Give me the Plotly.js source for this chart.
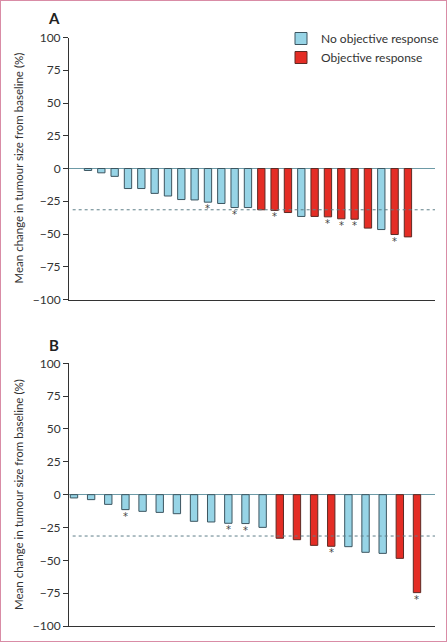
<!DOCTYPE html>
<html>
<head>
<meta charset="utf-8">
<script src="https://cdn.plot.ly/plotly-3.0.1.min.js"></script>
<style>
html,body{margin:0;padding:0;background:#fff;}
#wrap{position:relative;width:447px;height:642px;box-sizing:border-box;border:1px solid #d98ca6;overflow:hidden;}
#chart{position:absolute;left:-1px;top:-1px;width:447px;height:642px;}
</style>
</head>
<body>
<div id="wrap"><div id="chart"></div></div>
<script>
// Panel A: mean change in tumour size (%) per patient, sorted
const valuesA = [-1.5, -3.3, -6, -15.3, -15.3, -19, -21, -23.7, -24, -25.7, -26.7, -29.8, -29.8,
                 -31.5, -32, -33.6, -36.6, -36.6, -36.9, -38.4, -38.7, -45.5, -46.6, -50.4, -52.2];
// 1 = objective response, 0 = no objective response
const responseA = [0,0,0,0,0,0,0,0,0,0,0,0,0, 1,1,1,0,1,1,1,1,1,0,1,1];
// 1 = asterisk marker
const starA =     [0,0,0,0,0,0,0,0,0,1,0,1,0, 0,1,0,0,0,1,1,1,0,0,1,0];

// Panel B
const valuesB = [-2.5, -3.8, -7.4, -11.4, -12.7, -13.5, -14.5, -20.3, -20.8, -21.8, -22, -24.9,
                 -33.2, -34.3, -38.6, -39.3, -39.6, -43.9, -44.7, -48.5, -74.6];
const responseB = [0,0,0,0,0,0,0,0,0,0,0,0, 1,1,1,1,0,0,0,1,1];
const starB =     [0,0,0,1,0,0,0,0,0,1,1,0, 0,0,0,1,0,0,0,0,1];

const thresholdA = -31.5;
const thresholdB = -31.5;
const yTicks = [100, 75, 50, 25, 0, -25, -50, -75, -100];
const legendNames = ['No objective response', 'Objective response'];
const panelLabels = ['A', 'B'];
const yTitle = 'Mean change in tumour size from baseline (%)';

const BLUE = '#97d4e6', RED = '#e42d25';
const BLUE_LINE = '#3c5560', RED_LINE = '#5e2a24';
const FONT = 'Lato, "Open Sans", sans-serif';

function panelTraces(vals, resp, xa, ya, width, showLegend) {
  const idx = vals.map((v, i) => i);
  const out = [];
  [0, 1].forEach(r => {
    const sel = idx.filter(i => resp[i] === r);
    out.push({
      type: 'bar',
      name: legendNames[r],
      x: sel,
      y: sel.map(i => vals[i]),
      width: width,
      xaxis: xa, yaxis: ya,
      marker: {color: r ? RED : BLUE, line: {color: r ? RED_LINE : BLUE_LINE, width: 1}},
      showlegend: showLegend,
      legendgroup: 'g' + r,
      hoverinfo: 'skip'
    });
  });
  return out;
}

const traces = [
  ...panelTraces(valuesA, responseA, 'x', 'y', 0.55, true),
  ...panelTraces(valuesB, responseB, 'x2', 'y2', 0.43, false)
];

function starAnns(vals, stars, xa, ya) {
  const a = [];
  vals.forEach((v, i) => {
    if (stars[i]) a.push({
      x: i, y: v, xref: xa, yref: ya, text: '*', showarrow: false,
      yanchor: 'top', yshift: 1,
      font: {family: '"DejaVu Sans", sans-serif', size: 10, color: '#444'}
    });
  });
  return a;
}

const yaxisBase = {
  range: [-100, 100], tickvals: yTicks, ticks: 'outside', ticklen: 5, tickwidth: 1,
  tickcolor: '#333', showline: true, linecolor: '#333', linewidth: 1,
  showgrid: false, zeroline: true, zerolinecolor: '#6d9aa6', zerolinewidth: 1,
  tickfont: {family: FONT, size: 12, color: '#333'}, fixedrange: true
};
const xaxisBase = {
  showticklabels: false, ticks: '', showgrid: false, zeroline: false,
  showline: true, linecolor: '#333', linewidth: 1.3, fixedrange: true
};

const H = 642;
const layout = {
  width: 447, height: 642,
  margin: {l: 69, r: 12, t: 0, b: 0},
  paper_bgcolor: '#fff', plot_bgcolor: '#fff',
  barmode: 'overlay',
  showlegend: true,
  legend: {
    x: 1 + 9 / 366, xanchor: 'right', y: 1 - 24 / H, yanchor: 'top',
    font: {family: FONT, size: 12, color: '#333'},
    bgcolor: 'rgba(0,0,0,0)', tracegroupgap: 0, itemwidth: 30
  },
  xaxis: Object.assign({}, xaxisBase, {domain: [0, 1], anchor: 'y', range: [-1.425, 26.03]}),
  yaxis: Object.assign({}, yaxisBase, {domain: [1 - 299.5 / H, 1 - 37.5 / H], anchor: 'x'}),
  xaxis2: Object.assign({}, xaxisBase, {domain: [0, 1], anchor: 'y2', range: [-0.29, 21.05]}),
  yaxis2: Object.assign({}, yaxisBase, {domain: [1 - 626 / H, 1 - 363.3 / H], anchor: 'x2'}),
  shapes: [
    {type: 'line', xref: 'x domain', yref: 'y', x0: 0.01, x1: 1, y0: thresholdA, y1: thresholdA,
     line: {color: '#5f7f89', width: 1, dash: '3px,3px'}},
    {type: 'line', xref: 'x2 domain', yref: 'y2', x0: 0.01, x1: 1, y0: thresholdB, y1: thresholdB,
     line: {color: '#5f7f89', width: 1, dash: '3px,3px'}}
  ],
  annotations: [
    ...starAnns(valuesA, starA, 'x', 'y'),
    ...starAnns(valuesB, starB, 'x2', 'y2'),
    {text: '<b>' + panelLabels[0] + '</b>', xref: 'paper', yref: 'paper', x: (54 - 69) / 366, y: 1 - 18 / H,
     xanchor: 'center', yanchor: 'middle', showarrow: false, font: {family: FONT, size: 15, color: '#222'}},
    {text: '<b>' + panelLabels[1] + '</b>', xref: 'paper', yref: 'paper', x: (54 - 69) / 366, y: 1 - 345 / H,
     xanchor: 'center', yanchor: 'middle', showarrow: false, font: {family: FONT, size: 15, color: '#222'}},
    {text: yTitle, xref: 'paper', yref: 'paper', x: (18 - 69) / 366, y: 1 - 168.5 / H, textangle: -90,
     xanchor: 'center', yanchor: 'middle', showarrow: false, font: {family: FONT, size: 11.5, color: '#333'}},
    {text: yTitle, xref: 'paper', yref: 'paper', x: (18 - 69) / 366, y: 1 - 495 / H, textangle: -90,
     xanchor: 'center', yanchor: 'middle', showarrow: false, font: {family: FONT, size: 11.5, color: '#333'}}
  ]
};

Plotly.newPlot('chart', traces, layout, {displayModeBar: false, staticPlot: true});
</script>
</body>
</html>
